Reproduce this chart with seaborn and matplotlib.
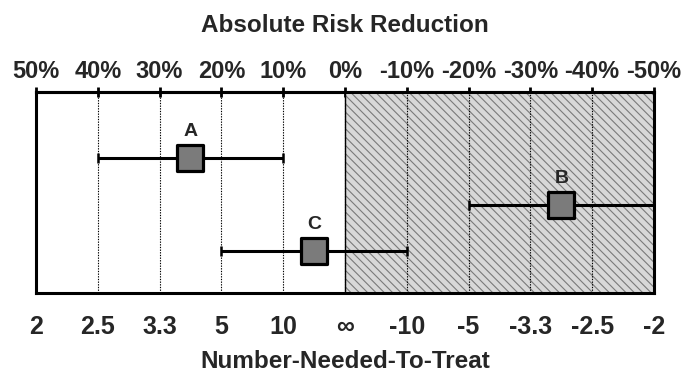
import pandas as pd
import matplotlib.pyplot as plt
import seaborn as sns

# study estimates (absolute risk reduction, %) with confidence limits
studies = ["A", "B", "C"]
arr = [25, -35, 5]
ci_low = [10, -50, -10]
ci_high = [40, -20, 20]
rows = [1, 2, 3]

# axis ticks
arr_ticks = [50, 40, 30, 20, 10, 0, -10, -20, -30, -40, -50]
arr_labels = ["50%", "40%", "30%", "20%", "10%", "0%", "-10%", "-20%", "-30%", "-40%", "-50%"]
nnt_labels = ["2", "2.5", "3.3", "5", "10", "\u221e", "-10", "-5", "-3.3", "-2.5", "-2"]


def main():
    df = pd.DataFrame({"study": studies, "arr": arr, "lo": ci_low, "hi": ci_high, "row": rows})

    sns.set_style("white")
    plt.rcParams["font.family"] = ["Liberation Sans", "DejaVu Sans"]
    plt.rcParams["font.weight"] = "bold"
    plt.rcParams["hatch.linewidth"] = 0.8

    fig = plt.figure(figsize=(6.84, 3.73), dpi=100)
    ax = fig.add_axes([0.0526, 0.2145, 0.9035, 0.5385])

    # harm region (negative ARR)
    ax.axvspan(0, -50, facecolor="#d8d8d8", edgecolor="#7a7a7a", hatch="\\\\\\\\",
               linewidth=0, zorder=0.4)
    ax.axvline(0, color="black", linewidth=1.0, zorder=0.6)

    # confidence intervals
    ax.errorbar(df["arr"], df["row"],
                xerr=[df["arr"] - df["lo"], df["hi"] - df["arr"]],
                fmt="none", ecolor="black", elinewidth=2.2, capsize=3.5, capthick=1.8,
                zorder=2)

    sns.scatterplot(data=df, x="arr", y="row", marker="s", s=340, color="#7b7b7b",
                    edgecolor="black", linewidth=2.3, zorder=3, legend=False, ax=ax)

    for _, r in df.iterrows():
        ax.annotate(r["study"], (r["arr"], r["row"]), xytext=(0, 13),
                    textcoords="offset points", ha="center", va="bottom",
                    fontsize=14, fontweight="bold")

    ax.set_xlim(50, -50)
    ax.set_ylim(3.9, -0.42)
    ax.set_yticks([])
    ax.set_ylabel("")

    ax.xaxis.grid(True, color="black", linestyle=(0, (1.2, 1.2)), linewidth=0.8)
    ax.yaxis.grid(False)
    ax.set_axisbelow(True)

    for side in ["top", "bottom", "left", "right"]:
        ax.spines[side].set_visible(True)
        ax.spines[side].set_color("black")
        ax.spines[side].set_linewidth(2.2)

    # bottom: number needed to treat
    ax.set_xticks(arr_ticks)
    ax.set_xticklabels(nnt_labels)
    ax.tick_params(axis="x", direction="out", length=5, width=2, color="black",
                   labelsize=18, pad=11)
    ax.set_xlabel("Number-Needed-To-Treat", fontsize=17.5, fontweight="bold", labelpad=8)

    # top: absolute risk reduction
    secax = ax.secondary_xaxis("top")
    secax.set_xticks(arr_ticks)
    secax.set_xticklabels(arr_labels)
    secax.tick_params(axis="x", direction="inout", length=7, width=2, color="black",
                      labelsize=17, pad=3)
    secax.spines["top"].set_linewidth(2.2)
    secax.set_xlabel("Absolute Risk Reduction", fontsize=17.5, fontweight="bold", labelpad=20)

    fig.savefig("out.png", dpi=100)


if __name__ == "__main__":
    main()
